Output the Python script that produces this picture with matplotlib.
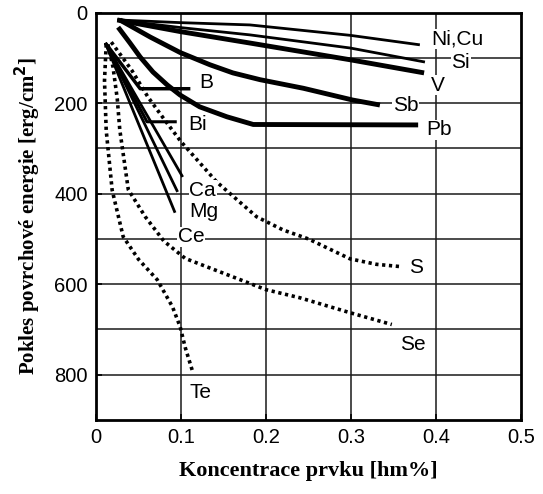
import matplotlib
matplotlib.use("Agg")
import matplotlib.pyplot as plt

# --- data: surface energy decrease vs. element concentration ---
nicu_x = [0.025, 0.10, 0.181, 0.299, 0.381]
nicu_y = [16, 22, 27, 50, 71]

si_x = [0.025, 0.10, 0.181, 0.299, 0.387]
si_y = [16, 33, 49, 78, 109]

v_x = [0.025, 0.10, 0.181, 0.299, 0.386]
v_y = [16, 42, 67, 104, 133]

sb_x = [0.028, 0.064, 0.099, 0.134, 0.161, 0.193, 0.244, 0.302, 0.334]
sb_y = [16, 54, 88, 115, 133, 148, 167, 193, 204]

pb_x = [0.026, 0.040, 0.052, 0.067, 0.084, 0.099, 0.122, 0.154, 0.185, 0.379]
pb_y = [32, 67, 98, 131, 160, 182, 208, 230, 247, 248]

b_x = [0.011, 0.052, 0.111]
b_y = [67, 168, 168]

bi_x = [0.011, 0.060, 0.095]
bi_y = [67, 241, 241]

ca1_x = [0.011, 0.102]
ca1_y = [67, 363]
ca_x = [0.011, 0.096]
ca_y = [67, 396]
mg_x = [0.011, 0.093]
mg_y = [67, 442]

s_x = [0.018, 0.042, 0.061, 0.080, 0.100, 0.142, 0.189, 0.220, 0.250, 0.299, 0.330, 0.358]
s_y = [65, 127, 186, 235, 285, 374, 451, 480, 500, 544, 556, 561]

se_x = [0.014, 0.020, 0.025, 0.028, 0.038, 0.058, 0.080, 0.105, 0.149, 0.200, 0.240, 0.299, 0.348]
se_y = [70, 120, 190, 259, 391, 451, 505, 543, 575, 612, 630, 663, 689]

te_x = [0.012, 0.010, 0.012, 0.019, 0.032, 0.050, 0.072, 0.090, 0.099, 0.105, 0.114]
te_y = [70, 150, 260, 392, 495, 545, 590, 650, 694, 740, 795]

x_ticks = [0, 0.1, 0.2, 0.3, 0.4, 0.5]
x_tick_labels = ["0", "0.1", "0.2", "0.3", "0.4", "0.5"]
y_ticks = [0, 200, 400, 600, 800]

labels = {
    "Ni,Cu": (0.394, 58),
    "Si": (0.418, 111),
    "V": (0.394, 160),
    "Sb": (0.349, 204),
    "Pb": (0.389, 259),
    "B": (0.121, 155),
    "Bi": (0.108, 248),
    "Ca": (0.110, 392),
    "Mg": (0.110, 440),
    "Ce": (0.096, 495),
    "S": (0.368, 564),
    "Se": (0.358, 734),
    "Te": (0.110, 840),
}

fig = plt.figure(figsize=(5.43, 4.94), dpi=100)
ax = fig.add_axes([96 / 543, 1 - 420 / 494, 425 / 543, (420 - 12.7) / 494])

# grid
for gx in [0.1, 0.2, 0.3, 0.4]:
    ax.axvline(gx, color="#1a1a1a", lw=1.1, zorder=1)
for gy in range(100, 900, 100):
    ax.axhline(gy, color="#1a1a1a", lw=1.1, zorder=1)

solid = dict(color="black", solid_capstyle="butt", solid_joinstyle="round", zorder=3)
ax.plot(nicu_x, nicu_y, lw=2.0, **solid)
ax.plot(si_x, si_y, lw=2.0, **solid)
ax.plot(v_x, v_y, lw=3.5, **solid)
ax.plot(sb_x, sb_y, lw=3.5, **solid)
ax.plot(pb_x, pb_y, lw=3.5, **solid)
ax.plot(b_x, b_y, lw=2.5, **solid)
ax.plot(bi_x, bi_y, lw=2.2, **solid)
ax.plot(ca1_x, ca1_y, lw=2.0, **solid)
ax.plot(ca_x, ca_y, lw=2.0, **solid)
ax.plot(mg_x, mg_y, lw=2.0, **solid)

dotted = dict(color="black", lw=2.6, linestyle=(0, (0.9, 1.0)), zorder=3)
ax.plot(s_x, s_y, **dotted)
ax.plot(se_x, se_y, **dotted)
ax.plot(te_x, te_y, **dotted)

for name, (lx, ly) in labels.items():
    ax.text(lx, ly, name, fontsize=15, family="Liberation Sans", va="center", ha="left",
            zorder=4, bbox=dict(facecolor="white", edgecolor="none", pad=0.5))

ax.set_xlim(0, 0.5)
ax.set_ylim(900, 0)
ax.set_xticks(x_ticks)
ax.set_xticklabels(x_tick_labels)
ax.set_yticks(y_ticks)
ax.tick_params(direction="in", length=4, width=1.2, labelsize=14.5, pad=6)
for lab in ax.get_xticklabels() + ax.get_yticklabels():
    lab.set_family("Liberation Sans")
for sp in ax.spines.values():
    sp.set_linewidth(2.0)

ax.set_xlabel("Koncentrace prvku [hm%]", family="Liberation Serif", fontweight="bold",
              fontsize=16, labelpad=10)
ax.set_ylabel("Pokles povrchové energie [erg/cm$^\\mathbf{2}$]", family="Liberation Serif",
              fontweight="bold", fontsize=15, labelpad=8)

fig.savefig("out.png", dpi=100)
